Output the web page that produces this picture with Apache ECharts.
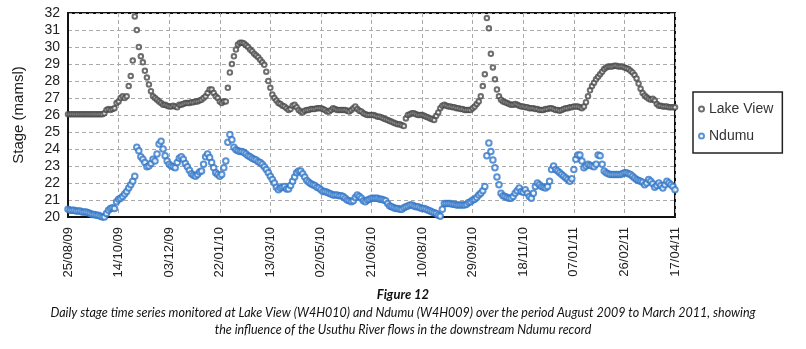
<!DOCTYPE html>
<html>
<head>
<meta charset="utf-8">
<script src="https://cdn.jsdelivr.net/npm/echarts@6/dist/echarts.min.js"></script>
<style>
  html, body { margin: 0; padding: 0; background: #fff; }
  #chart { width: 806px; height: 349px; }
</style>
</head>
<body>
<div id="chart"></div>
<script>
// one reading every 2 days, starting 25/08/2009
const START = Date.UTC(2009, 7, 25);
const STEP = 2;
const xTicks = { min: 0, max: 600, interval: 50 };
const yTicks = { min: 20, max: 32, interval: 1 };
const seriesNames = ["Lake View", "Ndumu"];
const captionTitle = "Figure 12";
const captionLines = [
  "Daily stage time series monitored at Lake View (W4H010) and Ndumu (W4H009) over the period August 2009 to March 2011, showing",
  "the influence of the Usuthu River flows in the downstream Ndumu record",
];

const lakeView = [
  26.05, 26.05, 26.05, 26.05, 26.05, 26.05, 26.05, 26.05, 26.05, 26.05,
  26.05, 26.05, 26.05, 26.05, 26.05, 26.05, 26.05, 26.05, 26.1, 26.3,
  26.35, 26.3, 26.35, 26.4, 26.7, 26.8, 27.0, 27.1, 27.0, 27.1,
  27.7, 28.3, 29.2, 31.8, 31.0, 30.0, 29.45, 29.1, 28.6, 28.2,
  27.8, 27.4, 27.1, 27.0, 26.9, 26.8, 26.7, 26.6, 26.6, 26.55,
  26.5, 26.5, 26.55, 26.5, 26.45, 26.6, 26.6, 26.65, 26.7, 26.7,
  26.7, 26.75, 26.75, 26.8, 26.8, 26.85, 26.9, 27.0, 27.1, 27.3,
  27.5, 27.5, 27.3, 27.1, 27.0, 26.8, 26.7, 26.8, 26.8, 27.6,
  28.5, 29.0, 29.45, 29.85, 30.15, 30.25, 30.25, 30.2, 30.1, 30.0,
  29.85, 29.75, 29.6, 29.5, 29.4, 29.25, 29.1, 28.95, 28.55, 28.0,
  27.6, 27.2, 27.0, 26.85, 26.7, 26.65, 26.55, 26.5, 26.4, 26.3,
  26.35, 26.55, 26.6, 26.45, 26.3, 26.2, 26.15, 26.25, 26.3, 26.3,
  26.35, 26.35, 26.35, 26.4, 26.4, 26.4, 26.35, 26.3, 26.2, 26.2,
  26.3, 26.4, 26.35, 26.3, 26.3, 26.3, 26.3, 26.3, 26.25, 26.2,
  26.3, 26.4, 26.5, 26.35, 26.25, 26.2, 26.1, 26.05, 26.0, 26.0,
  26.0, 26.0, 25.95, 25.9, 25.9, 25.85, 25.8, 25.75, 25.7, 25.65,
  25.6, 25.55, 25.5, 25.45, 25.45, 25.4, 25.35, 25.8, 26.0, 26.05,
  26.1, 26.1, 26.05, 26.0, 26.0, 26.0, 25.95, 25.9, 25.85, 25.8,
  25.75, 25.7, 25.95, 26.15, 26.4, 26.55, 26.6, 26.55, 26.5, 26.5,
  26.45, 26.45, 26.4, 26.4, 26.35, 26.35, 26.3, 26.3, 26.3, 26.3,
  26.4, 26.5, 26.65, 26.8, 27.1, 27.7, 28.4, 31.7, 31.1, 29.6,
  28.8, 28.1, 27.5, 27.1, 26.9, 26.8, 26.75, 26.7, 26.65, 26.6,
  26.6, 26.65, 26.6, 26.55, 26.5, 26.5, 26.45, 26.45, 26.4, 26.4,
  26.4, 26.35, 26.35, 26.3, 26.3, 26.3, 26.35, 26.35, 26.4, 26.4,
  26.35, 26.3, 26.3, 26.25, 26.3, 26.35, 26.4, 26.4, 26.45, 26.45,
  26.5, 26.5, 26.5, 26.45, 26.4, 26.5, 26.75, 27.1, 27.45, 27.7,
  27.9, 28.1, 28.25, 28.4, 28.55, 28.7, 28.8, 28.85, 28.85, 28.85,
  28.9, 28.9, 28.85, 28.85, 28.85, 28.8, 28.75, 28.7, 28.6, 28.5,
  28.35, 28.15, 27.85, 27.55, 27.3, 27.15, 27.05, 26.95, 26.9, 26.95,
  26.85, 26.65, 26.55, 26.55, 26.5, 26.5, 26.5, 26.45, 26.45, 26.45,
  26.45
];

const ndumu = [
  20.45, 20.4, 20.4, 20.4, 20.35, 20.35, 20.35, 20.3, 20.3, 20.3,
  20.25, 20.2, 20.15, 20.15, 20.1, 20.1, 20.05, 20.0, 20.0, 20.2,
  20.4, 20.5, 20.55, 20.5, 20.9, 21.05, 21.1, 21.2, 21.35, 21.5,
  21.7, 21.9, 22.1, 22.4, 24.1, 23.9, 23.55, 23.4, 23.2, 22.95,
  23.0, 23.15, 23.4, 23.3, 23.7, 24.3, 24.45, 24.0, 23.6, 23.3,
  23.1, 23.0, 22.95, 22.9, 23.2, 23.45, 23.55, 23.4, 23.15, 22.95,
  22.75, 22.55, 22.45, 22.4, 22.5, 22.65, 22.7, 23.1, 23.55, 23.7,
  23.5, 23.2, 22.9, 22.6, 22.5, 22.4, 22.5, 22.9, 23.3, 24.4,
  24.85, 24.55, 24.1, 23.95, 23.9, 23.85, 23.85, 23.8, 23.7, 23.6,
  23.55, 23.45, 23.4, 23.35, 23.25, 23.2, 23.1, 22.95, 22.8, 22.6,
  22.4, 22.2, 22.0, 21.75, 21.6, 21.7, 21.75, 21.8, 21.65, 21.65,
  21.85, 22.1, 22.35, 22.6, 22.7, 22.7, 22.55, 22.35, 22.15, 22.05,
  21.95, 21.9, 21.85, 21.75, 21.7, 21.6, 21.5, 21.5, 21.45, 21.4,
  21.35, 21.3, 21.3, 21.3, 21.25, 21.25, 21.2, 21.1, 21.0, 20.95,
  20.9, 20.95, 21.15, 21.3, 21.2, 21.1, 20.95, 20.9, 21.0, 21.05,
  21.1, 21.1, 21.1, 21.1, 21.05, 21.05, 21.0, 20.95, 20.8, 20.65,
  20.6, 20.55, 20.5, 20.5, 20.45, 20.45, 20.55, 20.6, 20.65, 20.7,
  20.7, 20.65, 20.6, 20.6, 20.55, 20.5, 20.5, 20.45, 20.4, 20.35,
  20.3, 20.25, 20.2, 20.1, 20.05, 20.45, 20.8, 20.8, 20.8, 20.8,
  20.75, 20.75, 20.7, 20.7, 20.7, 20.7, 20.7, 20.75, 20.85, 20.9,
  21.0, 21.05, 21.15, 21.3, 21.4, 21.55, 21.8, 23.6, 24.35, 23.85,
  23.35, 22.9, 22.35, 21.9, 21.4, 21.25, 21.2, 21.15, 21.1, 21.1,
  21.2, 21.4, 21.55, 21.7, 21.5, 21.45, 21.6, 21.4, 21.2, 21.1,
  21.4, 21.8, 22.0, 21.9, 21.8, 21.75, 21.7, 21.8, 22.1, 22.8,
  23.0, 22.8, 22.7, 22.6, 22.5, 22.4, 22.3, 22.2, 22.1, 22.25,
  22.8, 23.4, 23.65, 23.65, 23.3, 22.9, 23.0, 23.1, 23.05, 23.0,
  22.95, 23.1, 23.65, 23.6, 23.1, 22.7, 22.6, 22.55, 22.5, 22.5,
  22.5, 22.5, 22.5, 22.5, 22.55, 22.6, 22.6, 22.55, 22.5, 22.4,
  22.3, 22.2, 22.15, 22.1, 22.05, 21.9, 22.0, 22.2, 22.1, 21.95,
  21.75, 21.85, 22.0, 21.85, 21.7, 21.9, 22.1, 22.0, 21.9, 21.8,
  21.6
];

const pad = n => (n < 10 ? "0" : "") + n;
const dayLabel = d => {
  const t = new Date(START + d * 86400000);
  return pad(t.getUTCDate()) + "/" + pad(t.getUTCMonth() + 1) + "/" + String(t.getUTCFullYear()).slice(2);
};

const chart = echarts.init(document.getElementById("chart"));

const captionFont = "Lato, 'Open Sans', sans-serif";

const option = {
  animation: false,
  backgroundColor: "#fff",
  textStyle: { fontFamily: "Liberation Sans, Arial, sans-serif" },
  graphic: [
    {
      type: "text",
      left: "center",
      top: 288,
      style: { text: captionTitle, font: "italic bold 13px " + captionFont, fill: "#111" },
    },
    {
      type: "text",
      left: "center",
      top: 306,
      style: { text: captionLines[0], font: "italic 12.5px " + captionFont, fill: "#111" },
    },
    {
      type: "text",
      left: "center",
      top: 323,
      style: { text: captionLines[1], font: "italic 12.5px " + captionFont, fill: "#111" },
    },
  ],
  legend: {
    orient: "vertical",
    left: 693,
    top: 92,
    padding: [10, 9, 10, 5],
    itemGap: 13,
    itemWidth: 5,
    itemHeight: 5,
    borderColor: "#222",
    borderWidth: 1.5,
    textStyle: { fontSize: 14, color: "#333" },
    data: seriesNames.map(n => ({ name: n, icon: "emptyCircle" })),
  },
  grid: {
    left: 68,
    right: 131,
    top: 13,
    bottom: 132,
    show: true,
    borderColor: "#111",
    borderWidth: 2,
  },
  xAxis: {
    type: "value",
    min: xTicks.min,
    max: xTicks.max,
    interval: xTicks.interval,
    axisLine: { lineStyle: { color: "#111", width: 2 } },
    axisTick: { show: false },
    splitLine: { lineStyle: { color: "#aaa", type: [4, 3] } },
    axisLabel: {
      rotate: 90,
      margin: 10,
      fontSize: 13,
      color: "#222",
      formatter: v => dayLabel(v),
    },
  },
  yAxis: {
    type: "value",
    min: yTicks.min,
    max: yTicks.max,
    interval: yTicks.interval,
    name: "Stage (mamsl)",
    nameLocation: "middle",
    nameGap: 42,
    nameTextStyle: { fontSize: 15, color: "#222" },
    axisLine: { show: true, lineStyle: { color: "#111", width: 2 } },
    axisTick: { show: false },
    splitLine: { lineStyle: { color: "#aaa", type: [4, 3] } },
    axisLabel: { fontSize: 14, color: "#222", margin: 8 },
  },
  series: [
    {
      name: seriesNames[0],
      type: "scatter",
      symbol: "emptyCircle",
      symbolSize: 4.5,
      itemStyle: { color: "#4a4a4a", borderWidth: 0.9 },
      data: lakeView.map((v, i) => [i * STEP, v]),
    },
    {
      name: seriesNames[1],
      type: "scatter",
      symbol: "emptyCircle",
      symbolSize: 5.5,
      itemStyle: { color: "#3277c8", borderWidth: 1.1 },
      data: ndumu.map((v, i) => [i * STEP, v]),
    },
  ],
};

chart.setOption(option);
</script>
</body>
</html>
